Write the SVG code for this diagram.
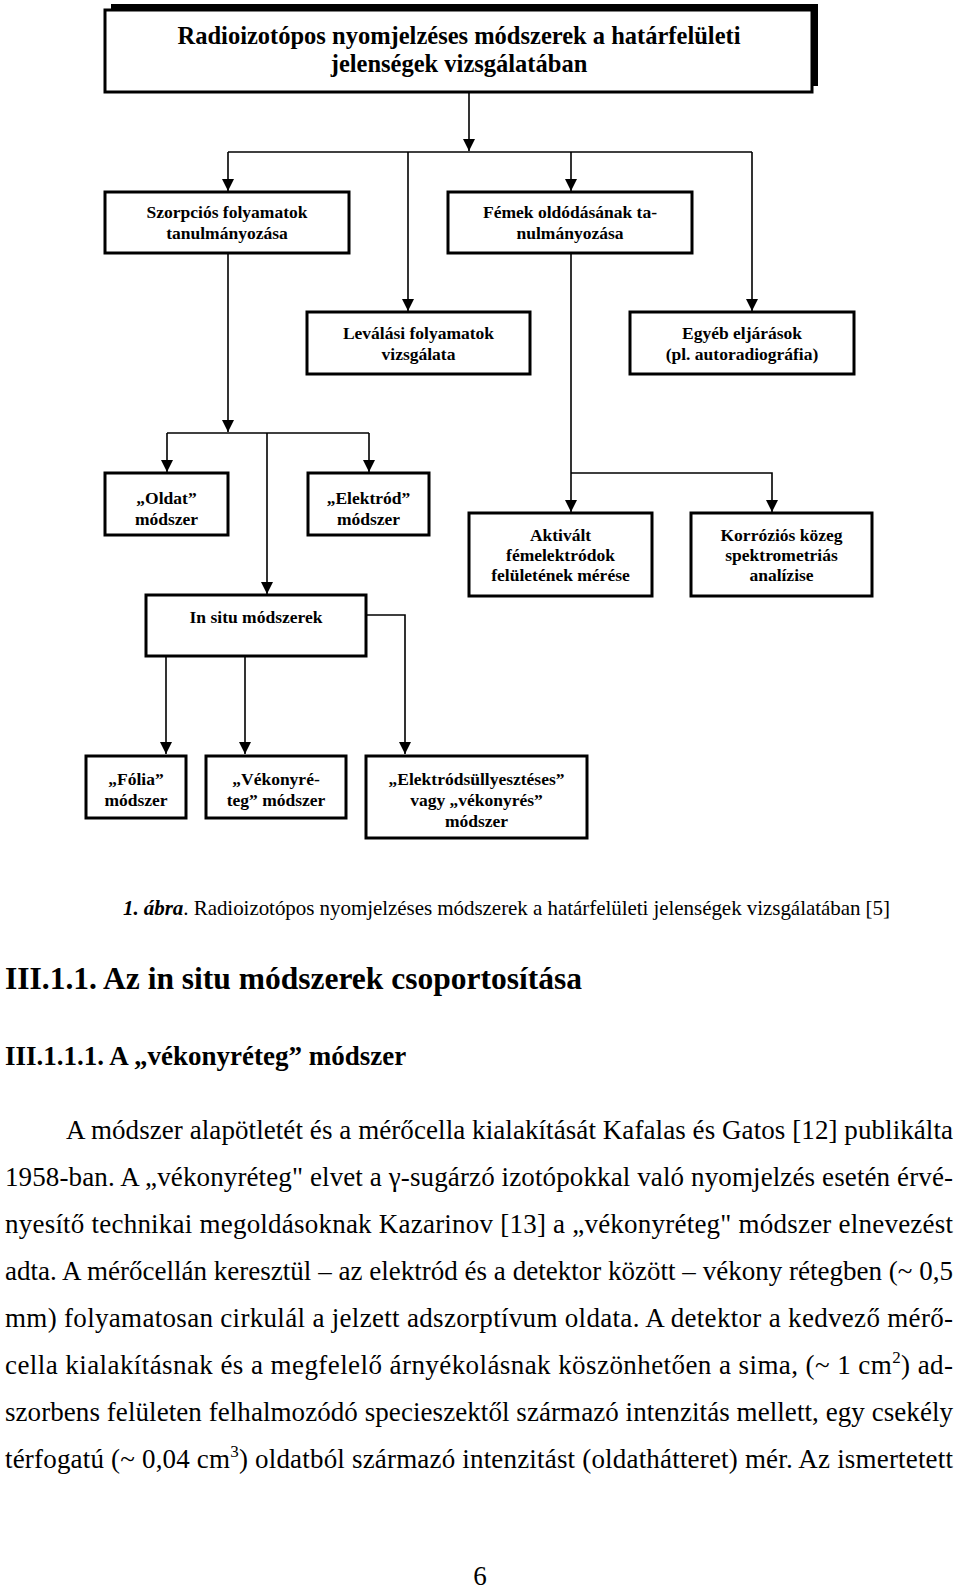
<svg xmlns="http://www.w3.org/2000/svg" width="960" height="1589" viewBox="0 0 960 1589">
<style>
.box{fill:#fff;stroke:#000;stroke-width:3}
.lbl{font-family:"Liberation Serif","Times New Roman",serif;font-weight:bold;font-size:17.5px;text-anchor:middle;fill:#000}
.conn{fill:none;stroke:#000;stroke-width:1.6}
.body{font-family:"Liberation Serif","Times New Roman",serif;font-size:27px;fill:#000}
.hd{font-family:"Liberation Serif","Times New Roman",serif;font-weight:bold;fill:#000}
</style>
<defs>
<marker id="ah" markerUnits="userSpaceOnUse" markerWidth="12" markerHeight="12" viewBox="0 0 12 12" refX="12" refY="6" orient="auto">
<path d="M0,0 L12,6 L0,12 z" fill="#000"/>
</marker>
</defs>
<rect width="960" height="1589" fill="#fff"/>

<g id="connectors">
<path class="conn" d="M469,92 V151" marker-end="url(#ah)"/>
<path class="conn" d="M228,152 H752"/>
<path class="conn" d="M228,152 V191" marker-end="url(#ah)"/>
<path class="conn" d="M408,152 V311" marker-end="url(#ah)"/>
<path class="conn" d="M571,152 V191" marker-end="url(#ah)"/>
<path class="conn" d="M752,152 V311" marker-end="url(#ah)"/>
<path class="conn" d="M228,253 V432" marker-end="url(#ah)"/>
<path class="conn" d="M167,433 H369"/>
<path class="conn" d="M167,433 V472" marker-end="url(#ah)"/>
<path class="conn" d="M369,433 V472" marker-end="url(#ah)"/>
<path class="conn" d="M267,433 V594" marker-end="url(#ah)"/>
<path class="conn" d="M571,253 V512" marker-end="url(#ah)"/>
<path class="conn" d="M571,473 H772 V512" marker-end="url(#ah)"/>
<path class="conn" d="M166,655 V754" marker-end="url(#ah)"/>
<path class="conn" d="M245,655 V754" marker-end="url(#ah)"/>
<path class="conn" d="M366,615 H405 V754" marker-end="url(#ah)"/>
</g>

<g id="title">
<rect x="111" y="4" width="707" height="82" fill="#000"/>
<rect class="box" x="105" y="10" width="707" height="82"/>
<text class="lbl" x="459" y="44" style="font-size:24.5px">Radioizotópos nyomjelzéses módszerek a határfelületi</text>
<text class="lbl" x="459" y="72" style="font-size:24.5px">jelenségek vizsgálatában</text>
</g>

<g id="szorpcios">
<rect class="box" x="105" y="192" width="244" height="61"/>
<text class="lbl" x="227" y="218">Szorpciós folyamatok</text>
<text class="lbl" x="227" y="239">tanulmányozása</text>
</g>

<g id="femek">
<rect class="box" x="448" y="192" width="244" height="61"/>
<text class="lbl" x="570" y="218">Fémek oldódásának ta-</text>
<text class="lbl" x="570" y="239">nulmányozása</text>
</g>

<g id="levalasi">
<rect class="box" x="307" y="312" width="223" height="62"/>
<text class="lbl" x="418.5" y="339">Leválási folyamatok</text>
<text class="lbl" x="418.5" y="360">vizsgálata</text>
</g>

<g id="egyeb">
<rect class="box" x="630" y="312" width="224" height="62"/>
<text class="lbl" x="742" y="339">Egyéb eljárások</text>
<text class="lbl" x="742" y="360">(pl. autoradiográfia)</text>
</g>

<g id="oldat">
<rect class="box" x="105" y="473" width="123" height="62"/>
<text class="lbl" x="166.5" y="504">„Oldat”</text>
<text class="lbl" x="166.5" y="525">módszer</text>
</g>

<g id="elektrod">
<rect class="box" x="308" y="473" width="121" height="62"/>
<text class="lbl" x="368.5" y="504">„Elektród”</text>
<text class="lbl" x="368.5" y="525">módszer</text>
</g>

<g id="aktivalt">
<rect class="box" x="469" y="513" width="183" height="83"/>
<text class="lbl" x="560.5" y="541">Aktivált</text>
<text class="lbl" x="560.5" y="561">fémelektródok</text>
<text class="lbl" x="560.5" y="581">felületének mérése</text>
</g>

<g id="korrozios">
<rect class="box" x="691" y="513" width="181" height="83"/>
<text class="lbl" x="781.5" y="541">Korróziós közeg</text>
<text class="lbl" x="781.5" y="561">spektrometriás</text>
<text class="lbl" x="781.5" y="581">analízise</text>
</g>

<g id="insitu">
<rect class="box" x="146" y="595" width="220" height="61"/>
<text class="lbl" x="256" y="623">In situ módszerek</text>
</g>

<g id="folia">
<rect class="box" x="86" y="756" width="100" height="62"/>
<text class="lbl" x="136" y="785">„Fólia”</text>
<text class="lbl" x="136" y="806">módszer</text>
</g>

<g id="vekonyreteg">
<rect class="box" x="206" y="756" width="140" height="62"/>
<text class="lbl" x="276" y="785">„Vékonyré-</text>
<text class="lbl" x="276" y="806">teg” módszer</text>
</g>

<g id="elektrodsullyeszteses">
<rect class="box" x="366" y="756" width="221" height="82"/>
<text class="lbl" x="476.5" y="785">„Elektródsüllyesztéses”</text>
<text class="lbl" x="476.5" y="806">vagy „vékonyrés”</text>
<text class="lbl" x="476.5" y="827">módszer</text>
</g>

<g id="text">
<text class="body" x="123" y="915" style="font-size:21px" textLength="767" lengthAdjust="spacing"><tspan font-style="italic" font-weight="bold">1. ábra</tspan>. Radioizotópos nyomjelzéses módszerek a határfelületi jelenségek vizsgálatában [5]</text>
<text class="hd" x="5" y="989" style="font-size:31.5px">III.1.1. Az in situ módszerek csoportosítása</text>
<text class="hd" x="5" y="1065" style="font-size:27px">III.1.1.1. A „vékonyréteg” módszer</text>
<text class="body" x="66" y="1139" textLength="887" lengthAdjust="spacing">A módszer alapötletét és a mérőcella kialakítását Kafalas és Gatos [12] publikálta</text>
<text class="body" x="5" y="1186" textLength="948" lengthAdjust="spacing">1958-ban. A „vékonyréteg" elvet a γ-sugárzó izotópokkal való nyomjelzés esetén érvé-</text>
<text class="body" x="5" y="1233" textLength="948" lengthAdjust="spacing">nyesítő technikai megoldásoknak Kazarinov [13] a „vékonyréteg" módszer elnevezést</text>
<text class="body" x="5" y="1280" textLength="948" lengthAdjust="spacing">adta. A mérőcellán keresztül – az elektród és a detektor között – vékony rétegben (~ 0,5</text>
<text class="body" x="5" y="1327" textLength="948" lengthAdjust="spacing">mm) folyamatosan cirkulál a jelzett adszorptívum oldata. A detektor a kedvező mérő-</text>
<text class="body" x="5" y="1374" textLength="948" lengthAdjust="spacing">cella kialakításnak és a megfelelő árnyékolásnak köszönhetően a sima, (~ 1 cm<tspan font-size="17" dy="-11">2</tspan><tspan dy="11">) ad-</tspan></text>
<text class="body" x="5" y="1421" textLength="948" lengthAdjust="spacing">szorbens felületen felhalmozódó specieszektől származó intenzitás mellett, egy csekély</text>
<text class="body" x="5" y="1468" textLength="948" lengthAdjust="spacing">térfogatú (~ 0,04 cm<tspan font-size="17" dy="-11">3</tspan><tspan dy="11">) oldatból származó intenzitást (oldathátteret) mér. Az ismertetett</tspan></text>
<text class="body" x="480" y="1585" text-anchor="middle">6</text>
</g>
</svg>
